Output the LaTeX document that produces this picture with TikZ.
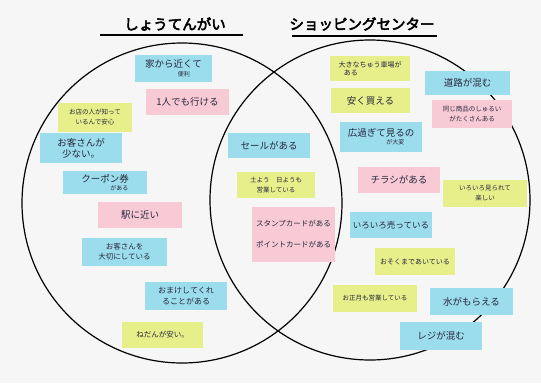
\documentclass[tikz,border=0pt]{standalone}
\usepackage{fontspec}
\newfontfamily\jp{Noto Sans CJK JP}
\newfontfamily\jpb{Noto Sans CJK JP}[FakeBold=3.5]
\definecolor{bg}{RGB}{246,246,246}
\definecolor{ncyan}{RGB}{155,221,236}
\definecolor{npink}{RGB}{247,202,213}
\definecolor{nyellow}{RGB}{230,239,138}
\definecolor{ink}{RGB}{40,40,60}
\tikzset{
  note/.style={inner sep=0pt, text=ink, align=center},
  ring/.style={draw=black, line width=1.2pt},
  title/.style={font=\jpb\fontsize{14.5}{16}\selectfont, text=black}
}
% \sticky{name}{x1}{y1}{x2}{y2}{color}{size}{lineskip}{text}
\newcommand{\sticky}[9]{%
  \fill[#6] (#2,#3) rectangle (#4,#5);
  \node[note, font=\jp\fontsize{#7}{#8}\selectfont] (#1) at ({(#2+#4)/2},{(#3+#5)/2}) {#9};}
\newcommand{\subnote}[1]{{\jp\fontsize{6}{7}\selectfont #1}}
\begin{document}
\begin{tikzpicture}[x=1pt,y=-1pt]
\fill[bg] (0,0) rectangle (541,383);
\useasboundingbox (0,0) rectangle (541,383);
% titles
\node[title] (t1) at (175,24) {しょうてんがい};
\node[title] (t2) at (362,24) {ショッピングセンター};
\draw[line width=1.3pt] (100,35) -- (243,35);
\draw[line width=1.3pt] (292,36) -- (437,36);
% circles
\coordinate (cl) at (182,203);
\coordinate (cr) at (370,200);
\draw[ring] (cl) circle[radius=160];
\draw[ring] (cr) circle[radius=160];
% left notes
\sticky{a1}{135}{55}{212}{82}{ncyan}{9.5}{11}{家から近くて\\[-2pt]\hspace*{2.2em}\subnote{便利}}
\sticky{a2}{146}{89}{229}{115}{npink}{9.5}{11}{1人でも行ける}
\sticky{a3}{58}{103}{132}{132}{nyellow}{6.5}{10}{お店の人が知って\\いるんで安心}
\sticky{a4}{40}{133}{122}{163}{ncyan}{9.5}{11}{お客さんが\\少ない。}
\sticky{a5}{63}{171}{147}{194}{ncyan}{9.5}{11}{クーポン券\\[-3pt]\hspace*{3em}\subnote{がある}}
\sticky{a6}{98}{202}{182}{228}{npink}{9.5}{11}{駅に近い}
\sticky{a7}{82}{238}{167}{266}{ncyan}{7.5}{10}{お客さんを\\大切にしている}
\sticky{a8}{145}{282}{227}{310}{ncyan}{8}{11}{おまけしてくれ\\ることがある}
\sticky{a9}{122}{322}{203}{348}{nyellow}{7.5}{9}{ねだんが安い。}
% middle notes
\sticky{b1}{228}{133}{310}{158}{ncyan}{9.5}{11}{セールがある}
\sticky{b2}{237}{172}{315}{198}{nyellow}{6.5}{10}{土よう　日ようも\\営業している}
\sticky{b3}{252}{207}{335}{262}{npink}{7.5}{21}{スタンプカードがある\\ポイントカードがある}
% right notes
\sticky{c1}{330}{56}{410}{81}{nyellow}{7}{8}{大きなちゅう車場が\\ある\hspace*{5.5em}}
\sticky{c2}{331}{88}{410}{113}{nyellow}{9.5}{11}{安く買える}
\sticky{c3}{340}{122}{422}{152}{ncyan}{9.5}{11}{広過ぎて見るの\\[-3pt]\hspace*{3em}\subnote{が大変}}
\sticky{c4}{425}{71}{510}{95}{ncyan}{9.5}{11}{道路が混む}
\sticky{c5}{432}{100}{512}{128}{npink}{6.5}{10}{同じ商品のしゅるい\\がたくさんある}
\sticky{c6}{358}{167}{440}{193}{npink}{9.5}{11}{チラシがある}
\sticky{c7}{443}{180}{527}{207}{nyellow}{6.5}{10}{いろいろ見られて\\楽しい}
\sticky{c8}{350}{212}{432}{238}{ncyan}{8.5}{10}{いろいろ売っている}
\sticky{c9}{375}{248}{455}{275}{nyellow}{7}{9}{おそくまであいている}
\sticky{c10}{333}{285}{417}{312}{nyellow}{6.5}{9}{お正月も営業している}
\sticky{c11}{430}{288}{513}{315}{ncyan}{9.5}{11}{水がもらえる}
\sticky{c12}{400}{322}{482}{350}{ncyan}{9.5}{11}{レジが混む}
\end{tikzpicture}
\end{document}
